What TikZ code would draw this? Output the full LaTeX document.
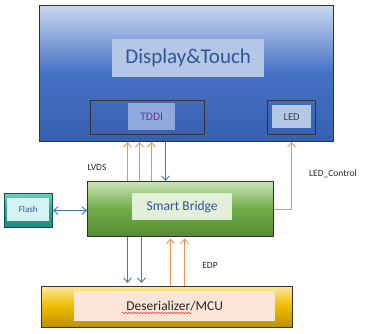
\documentclass[tikz,border=0pt]{standalone}
\usepackage{fontspec}
\setmainfont{Carlito}
\usepackage{xcolor}
\usetikzlibrary{arrows.meta,positioning,decorations.pathmorphing}

\definecolor{dblue}{HTML}{2F5597}
\definecolor{mblue}{HTML}{4472C4}
\definecolor{lblue}{HTML}{B4C7E7}
\definecolor{orng}{HTML}{F4904A}
\definecolor{dspbot}{HTML}{3860B0}
\definecolor{dspmid}{HTML}{4470C4}
\definecolor{dsptop}{HTML}{CBD7EF}
\definecolor{brbot}{HTML}{578A35}
\definecolor{brmid}{HTML}{70AD47}
\definecolor{brtop}{HTML}{C8E2B6}
\definecolor{flbot}{HTML}{1F8A82}
\definecolor{flmid}{HTML}{33A99F}
\definecolor{fltop}{HTML}{6CCBC2}
\definecolor{dsbot}{HTML}{BD8F00}
\definecolor{dsmid}{HTML}{F0BE00}
\definecolor{dstop}{HTML}{FFE699}

% panel gradients (bottom -> top)
\pgfdeclareverticalshading{dispsh}{100bp}{color(0bp)=(dspbot); color(25bp)=(dspbot);
  color(50bp)=(dspmid); color(75bp)=(dsptop); color(100bp)=(dsptop)}
\pgfdeclareverticalshading{bridgesh}{100bp}{color(0bp)=(brbot); color(25bp)=(brbot);
  color(50bp)=(brmid); color(75bp)=(brtop); color(100bp)=(brtop)}
\pgfdeclareverticalshading{flashsh}{100bp}{color(0bp)=(flbot); color(25bp)=(flbot);
  color(55bp)=(flmid); color(75bp)=(fltop); color(100bp)=(fltop)}
\pgfdeclareverticalshading{dessh}{100bp}{color(0bp)=(dsbot); color(25bp)=(dsbot);
  color(52bp)=(dsmid); color(75bp)=(dstop); color(100bp)=(dstop)}

\begin{document}
\begin{tikzpicture}[x=1pt, y=-1pt,
    box/.style={draw=black!80, line width=1pt, rectangle, anchor=north west, inner sep=0pt},
    lbl/.style={rectangle, anchor=north west, inner sep=0pt, align=center},
    oarr/.style={draw=orng, line width=0.9pt, -{Straight Barb[length=4.5pt,width=8pt]}},
    barr/.style={draw=mblue, line width=0.9pt, -{Straight Barb[length=4.5pt,width=8pt]}},
    sig/.style={font=\fontsize{9.5}{11}\selectfont, text=black!85}
  ]
    \useasboundingbox (0,0) rectangle (365,333);
    % display panel
    \node[box, minimum width=294pt, minimum height=136pt, shading=dispsh] (disp) at (39,5) {};
    \node[lbl, fill=lblue, minimum width=152pt, minimum height=38pt, text=dblue,
      font=\fontsize{21}{23}\selectfont] (dt) at (112,39) {Display\&Touch};
    \node[box, minimum width=114pt, minimum height=34pt] (tddi) at (90,100) {};
    \node[lbl, fill={rgb,255:red,143;green,170;blue,220}, minimum width=47pt, minimum height=27pt,
      text={rgb,255:red,112;green,48;blue,160}, font=\fontsize{11.5}{12}\selectfont] (tl) at (128,103) {TDDI};
    \node[box, minimum width=48pt, minimum height=34pt] (led) at (267,100) {};
    \node[lbl, fill=lblue, minimum width=39pt, minimum height=23pt, text=black!75,
      font=\fontsize{10.5}{12}\selectfont] (ll) at (272,105) {LED};
    % bridge
    \node[box, minimum width=186pt, minimum height=55pt, shading=bridgesh] (br) at (87,181) {};
    \node[lbl, fill={rgb,255:red,226;green,240;blue,217}, minimum width=100pt, minimum height=27pt, text=dblue,
      font=\fontsize{13.5}{15}\selectfont] (bl) at (132,193) {Smart Bridge};
    % flash
    \node[box, draw={rgb,255:red,25;green,80;blue,75}, minimum width=48pt, minimum height=34pt, shading=flashsh] (fl) at (4,193) {};
    \node[lbl, fill={rgb,255:red,213;green,243;blue,240}, minimum width=42pt, minimum height=23pt, text=dblue,
      font=\fontsize{9}{10}\selectfont] (fll) at (7,198) {Flash};
    % deserializer
    \node[box, minimum width=251pt, minimum height=41pt, shading=dessh] (des) at (41,286) {};
    \node[lbl, fill={rgb,255:red,251;green,229;blue,214}, minimum width=201pt, minimum height=30pt, text=black!85,
      font=\fontsize{13.5}{15}\selectfont] (dl) at (74,291) {Deserializer/MCU};
    \draw[red!85, line width=0.5pt, decorate, decoration={snake, amplitude=0.6pt, segment length=3pt}] (122,313) -- (192,313);
    % links
    \foreach \dx in {-53,-41,-29}
      \draw[oarr] ([xshift=\dx pt]br.north) -- ([xshift=\dx pt]br.north |- disp.south);
    \draw[barr] ([xshift=-15pt]br.north |- disp.south) -- ([xshift=-15pt]br.north);
    \draw[oarr] (br.east) -| (led.south |- disp.south);
    \draw[barr, {Straight Barb[length=4.5pt,width=8pt]}-{Straight Barb[length=4.5pt,width=8pt]}] (fl.east) -- (fl.east -| br.west);
    \foreach \dx in {-53,-39}
      \draw[barr, shorten >=3pt] ([xshift=\dx pt]br.south) -- ([xshift=\dx pt]br.south |- des.north);
    \foreach \dx in {-10,4}
      \draw[oarr, shorten >=1.5pt] ([xshift=\dx pt]br.south |- des.north) -- ([xshift=\dx pt]br.south);
    \node[sig] (lvds) at (97,167) {LVDS};
    \node[sig] (lctl) at (333,174) {LED\_Control};
    \node[sig] (edp) at (210,265) {EDP};
\end{tikzpicture}
\end{document}
